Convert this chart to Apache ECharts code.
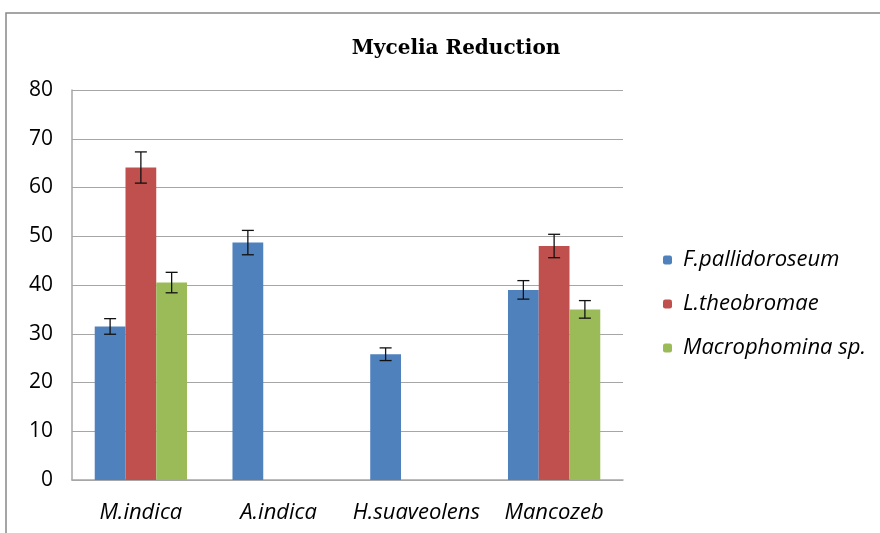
<!DOCTYPE html>
<html>
<head>
<meta charset="utf-8">
<script src="https://cdn.jsdelivr.net/npm/echarts@6/dist/echarts.min.js"></script>
<style>
  html, body { margin: 0; padding: 0; background: #fff; }
  #chart { width: 880px; height: 533px; }
</style>
</head>
<body>
<div id="chart"></div>
<script>
  // categories and series
  var categories = ['M.indica', 'A.indica', 'H.suaveolens', 'Mancozeb'];
  var seriesNames = ['F.pallidoroseum', 'L.theobromae', 'Macrophomina sp.'];
  var fPallidoroseum = [31.5, 48.7, 25.8, 39.0];
  var lTheobromae = [64.1, null, null, 48.0];
  var macrophomina = [40.5, null, null, 35.0];
  // error (+/-) for each bar
  var errF = [1.6, 2.5, 1.3, 1.9];
  var errL = [3.2, null, null, 2.4];
  var errM = [2.1, null, null, 1.8];
  var yTicks = [0, 10, 20, 30, 40, 50, 60, 70, 80];

  var colors = ['#4f81bd', '#c0504d', '#9bbb59'];
  var catGap = 0.33; // barCategoryGap

  var values = [fPallidoroseum, lTheobromae, macrophomina];
  var errs = [errF, errL, errM];

  function errData(k) {
    var out = [];
    for (var i = 0; i < categories.length; i++) {
      if (values[k][i] == null) continue;
      out.push([i, values[k][i] - errs[k][i], values[k][i] + errs[k][i]]);
    }
    return out;
  }

  // error bar drawn through the category scale
  function makeErrSeries(k) {
    return {
      type: 'custom',
      name: seriesNames[k] + ' err',
      z: 5,
      silent: true,
      data: errData(k),
      encode: { x: 0, y: [1, 2] },
      renderItem: function (params, api) {
        var ci = api.value(0);
        var lo = api.coord([ci, api.value(1)]);
        var hi = api.coord([ci, api.value(2)]);
        var band = api.size([1, 0])[0];
        var bw = band * (1 - catGap) / 3;
        var x = lo[0] + (k - 1) * bw;
        var cap = 6;
        var st = { stroke: '#111', lineWidth: 1.3 };
        return {
          type: 'group',
          children: [
            { type: 'line', shape: { x1: x, y1: lo[1], x2: x, y2: hi[1] }, style: st },
            { type: 'line', shape: { x1: x - cap, y1: lo[1], x2: x + cap, y2: lo[1] }, style: st },
            { type: 'line', shape: { x1: x - cap, y1: hi[1], x2: x + cap, y2: hi[1] }, style: st }
          ]
        };
      }
    };
  }

  var series = [];
  for (var k = 0; k < 3; k++) {
    series.push({
      name: seriesNames[k],
      type: 'bar',
      data: values[k],
      barGap: 0,
      barCategoryGap: (catGap * 100) + '%',
      itemStyle: { color: colors[k] }
    });
  }
  for (var k2 = 0; k2 < 3; k2++) {
    series.push(makeErrSeries(k2));
  }

  var myChart = echarts.init(document.getElementById('chart'));
  myChart.setOption({
    animation: false,
    backgroundColor: '#fff',
    title: {
      text: 'Mycelia Reduction',
      left: 451,
      textAlign: 'center',
      top: 34,
      textStyle: { fontFamily: 'DejaVu Serif', fontWeight: 'bold', fontSize: 20, color: '#000' }
    },
    graphic: [{
      type: 'rect',
      shape: { x: 6, y: 13, width: 900, height: 560 },
      style: { fill: 'none', stroke: '#888', lineWidth: 1.5 },
      silent: true
    }],
    legend: {
      orient: 'vertical',
      left: 663,
      top: 249,
      padding: 0,
      itemGap: 22,
      itemWidth: 9,
      itemHeight: 9,
      data: seriesNames,
      textStyle: { fontFamily: 'Open Sans', fontStyle: 'italic', fontSize: 22, color: '#000', padding: [0, 0, 0, 6] }
    },
    grid: { left: 72, right: 257, top: 90, bottom: 53 },
    xAxis: {
      type: 'category',
      data: categories,
      axisLine: { lineStyle: { color: '#a6a6a6', width: 1.5 } },
      axisTick: { show: false },
      axisLabel: { interval: 0, margin: 22, fontFamily: 'Open Sans', fontStyle: 'italic', fontSize: 22, color: '#000' }
    },
    yAxis: {
      type: 'value',
      min: yTicks[0],
      max: yTicks[yTicks.length - 1],
      interval: 10,
      axisLine: { show: true, lineStyle: { color: '#a6a6a6', width: 1.5 } },
      axisTick: { show: false },
      axisLabel: { margin: 19, fontFamily: 'Open Sans', fontSize: 21, color: '#000' },
      splitLine: { lineStyle: { color: '#a6a6a6', width: 1.2 } }
    },
    series: series
  });
</script>
</body>
</html>
